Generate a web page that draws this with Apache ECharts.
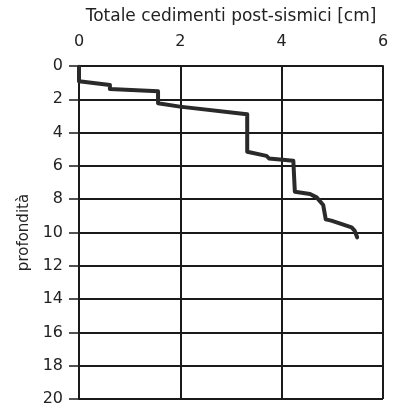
<!DOCTYPE html>
<html>
<head>
<meta charset="utf-8">
<script src="https://cdn.jsdelivr.net/npm/echarts@6/dist/echarts.min.js"></script>
<style>html,body{margin:0;padding:0;background:#fff}#c{width:397px;height:409px}</style>
</head>
<body>
<div id="c"></div>
<script>
var xValues = [0, 0, 0.61, 0.61, 1.56, 1.56, 1.99, 3.27, 3.32, 3.32, 3.7, 3.75, 4.23, 4.26, 4.26, 4.56, 4.69, 4.82, 4.87, 4.98, 5.38, 5.44, 5.49];
var depths  = [0.05, 0.92, 1.14, 1.38, 1.52, 2.24, 2.44, 2.88, 2.9, 5.15, 5.4, 5.55, 5.69, 5.72, 7.55, 7.69, 7.89, 8.35, 9.21, 9.29, 9.69, 9.89, 10.29];
var xTitle = 'Totale cedimenti post-sismici [cm]';
var yTitle = 'profondità';

var data = xValues.map(function (v, i) { return [v, depths[i]]; });
var chart = echarts.init(document.getElementById('c'));
var font = 'DejaVu Sans, sans-serif';
chart.setOption({
  animation: false,
  backgroundColor: '#fff',
  grid: { left: 79, right: 14, top: 66, bottom: 10, containLabel: false, outerBoundsMode: 'none' },
  xAxis: {
    type: 'value', position: 'top', min: 0, max: 6, interval: 2,
    name: xTitle, nameLocation: 'middle', nameGap: 41,
    nameTextStyle: { color: '#222', fontSize: 17, fontFamily: font },
    axisLine: { show: true, lineStyle: { color: '#1a1a1a', width: 2 } },
    axisTick: { show: false },
    axisLabel: { color: '#222', fontSize: 16, fontFamily: font, margin: 16 },
    splitLine: { show: true, lineStyle: { color: '#1a1a1a', width: 2 } }
  },
  yAxis: {
    type: 'value', inverse: true, min: 0, max: 20, interval: 2,
    name: yTitle, nameLocation: 'middle', nameGap: 46, nameRotate: 90,
    nameTextStyle: { color: '#222', fontSize: 15, fontFamily: font },
    axisLine: { show: true, lineStyle: { color: '#1a1a1a', width: 2 } },
    axisTick: { show: true, inside: false, length: 10, lineStyle: { color: '#1a1a1a', width: 1.5 } },
    axisLabel: { color: '#222', fontSize: 16, fontFamily: font, margin: 16 },
    splitLine: { show: true, lineStyle: { color: '#1a1a1a', width: 2 } }
  },
  series: [{
    type: 'line', data: data, showSymbol: false,
    lineStyle: { color: '#2a2a2a', width: 4, cap: 'round', join: 'round' }
  }]
});
</script>
</body>
</html>
